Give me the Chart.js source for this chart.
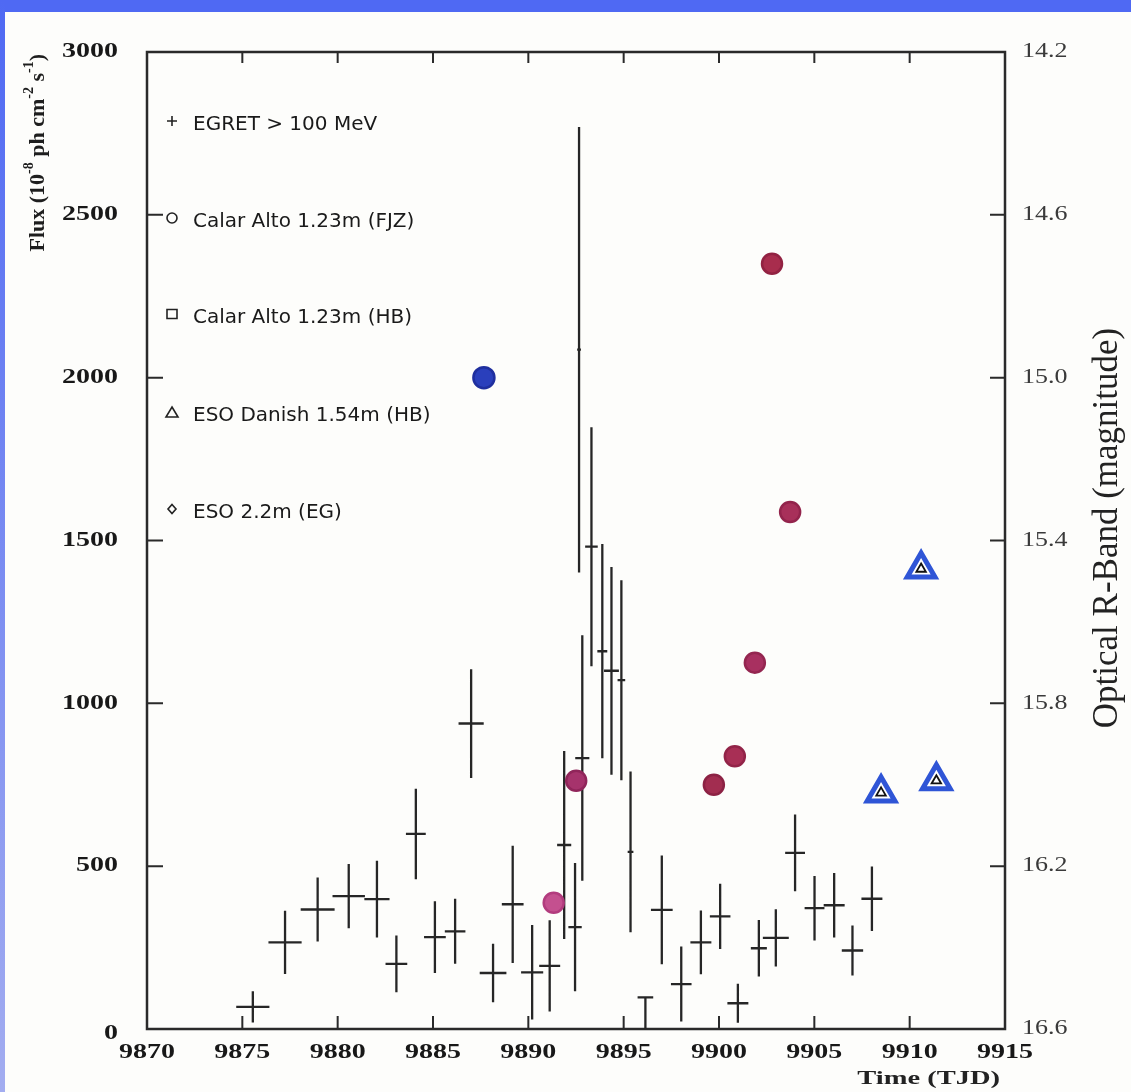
<!DOCTYPE html>
<html>
<head>
<meta charset="utf-8">
<title>EGRET / optical light curve</title>
<script src="https://cdn.jsdelivr.net/npm/chart.js@4.4.1/dist/chart.umd.min.js"></script>
<style>
  html, body { margin: 0; padding: 0; background: #fdfdfb; }
  #wrap { position: relative; width: 1131px; height: 1092px; overflow: hidden; }
  #lc { position: absolute; left: 0; top: 0; }
  #topbar { position: absolute; left: 0; top: 0; width: 1131px; height: 12px; background: #4f69f3; }
  #leftbar { position: absolute; left: 0; top: 0; width: 5px; height: 1092px; background: linear-gradient(#4f69f3, #a3adf0); }
</style>
</head>
<body>
<div id="wrap">
  <canvas id="lc" width="1131" height="1092"></canvas>
  <div id="topbar"></div>
  <div id="leftbar"></div>
</div>
<script>
// axis ticks
const timeTicks = [9870, 9875, 9880, 9885, 9890, 9895, 9900, 9905, 9910, 9915];
const fluxTicks = [0, 500, 1000, 1500, 2000, 2500, 3000];
const magTicks = [14.2, 14.6, 15.0, 15.4, 15.8, 16.2, 16.6];

// EGRET > 100 MeV flux (1e-8 ph cm-2 s-1), bin half width in days, errors
const egretTime = [9875.55, 9877.24, 9878.95, 9880.58, 9882.06, 9883.08, 9884.10, 9885.10, 9886.16, 9887.00,
                   9888.15, 9889.18, 9890.20, 9891.12, 9891.88, 9892.45, 9892.66, 9892.83, 9893.31, 9893.88,
                   9894.36, 9894.88, 9895.36, 9896.14, 9897.00, 9898.02, 9899.05, 9900.06, 9900.99, 9902.09,
                   9902.98, 9903.99, 9905.01, 9906.04, 9907.00, 9908.02];
const egretFlux = [68, 266, 367, 408, 399, 200, 599, 282, 300, 938,
                   172, 383, 174, 194, 565, 313, 2086, 832, 1481, 1160,
                   1100, 1071, 544, 97, 366, 138, 266, 346, 79, 248,
                   280, 541, 371, 380, 241, 400];
const egretHalfBin = [0.87, 0.87, 0.89, 0.85, 0.66, 0.57, 0.52, 0.57, 0.54, 0.66,
                      0.70, 0.57, 0.58, 0.55, 0.37, 0.35, 0.10, 0.37, 0.33, 0.26,
                      0.39, 0.20, 0.15, 0.41, 0.57, 0.54, 0.55, 0.54, 0.55, 0.42,
                      0.68, 0.52, 0.52, 0.55, 0.56, 0.55];
const egretErrUp = [48, 97, 98, 99, 118, 87, 139, 110, 100, 167,
                    90, 180, 145, 140, 289, 197, 684, 377, 367, 329,
                    319, 307, 247, 0, 167, 115, 98, 100, 60, 87,
                    88, 118, 99, 99, 77, 99];
const egretErrDown = [48, 97, 98, 99, 118, 87, 139, 110, 100, 167,
                      90, 180, 145, 140, 289, 197, 684, 377, 367, 329,
                      319, 307, 247, 97, 167, 115, 98, 100, 60, 87,
                      88, 118, 99, 99, 77, 99];

// optical R-band magnitudes
const calarTime = [9891.33, 9892.51, 9899.73, 9900.83, 9901.88, 9902.78, 9903.73];
const calarMag = [16.29, 15.99, 16.00, 15.93, 15.70, 14.72, 15.33];
const blueTime = [9887.67];
const blueMag = [15.0];
const danishTime = [9908.5, 9910.6, 9911.4];
const danishMag = [16.02, 15.47, 15.99];

const legendLabels = ['EGRET > 100 MeV', 'Calar Alto 1.23m (FJZ)', 'Calar Alto 1.23m (HB)',
                      'ESO Danish 1.54m (HB)', 'ESO 2.2m (EG)'];

function pts(xs, ys) {
  return xs.map((x, i) => ({ x: x, y: ys[i] }));
}

function wideText(ctx, txt, x, y, font, align, sx, color) {
  ctx.save();
  ctx.font = font;
  ctx.fillStyle = color;
  ctx.textBaseline = 'middle';
  ctx.textAlign = 'left';
  const w = ctx.measureText(txt).width * sx;
  const left = align === 'right' ? x - w : (align === 'center' ? x - w / 2 : x);
  ctx.translate(left, y);
  ctx.scale(sx, 1);
  ctx.fillText(txt, 0, 0);
  ctx.restore();
}

const paper = {
  id: 'paper',
  beforeDatasetsDraw(chart) {
    const { ctx, chartArea: a, scales } = chart;
    const x = scales.x, y = scales.y, y2 = scales.y2;
    ctx.save();
    // frame
    ctx.strokeStyle = '#2a2a2a';
    ctx.lineWidth = 2.5;
    ctx.strokeRect(a.left, a.top, a.right - a.left, a.bottom - a.top);
    // inner ticks
    ctx.lineWidth = 2;
    ctx.beginPath();
    timeTicks.slice(1, -1).forEach(t => {
      const px = x.getPixelForValue(t);
      ctx.moveTo(px, a.bottom); ctx.lineTo(px, a.bottom - 13);
      ctx.moveTo(px, a.top); ctx.lineTo(px, a.top + 11);
    });
    fluxTicks.slice(1, -1).forEach(v => {
      const py = y.getPixelForValue(v);
      ctx.moveTo(a.left, py); ctx.lineTo(a.left + 16, py);
    });
    magTicks.slice(1, -1).forEach(m => {
      const py = y2.getPixelForValue(m);
      ctx.moveTo(a.right, py); ctx.lineTo(a.right - 15, py);
    });
    ctx.stroke();

    // EGRET error crosses
    ctx.beginPath();
    ctx.rect(a.left, a.top, a.right - a.left, a.bottom - a.top);
    ctx.clip();
    ctx.strokeStyle = '#262626';
    ctx.lineWidth = 2.3;
    ctx.beginPath();
    egretTime.forEach((t, i) => {
      const px = x.getPixelForValue(t);
      const py = y.getPixelForValue(egretFlux[i]);
      ctx.moveTo(x.getPixelForValue(t - egretHalfBin[i]), py);
      ctx.lineTo(x.getPixelForValue(t + egretHalfBin[i]), py);
      ctx.moveTo(px, y.getPixelForValue(egretFlux[i] + egretErrUp[i]));
      ctx.lineTo(px, y.getPixelForValue(egretFlux[i] - egretErrDown[i]));
    });
    ctx.stroke();
    ctx.restore();
  },
  afterDraw(chart) {
    const { ctx, chartArea: a, scales } = chart;
    const x = scales.x, y = scales.y, y2 = scales.y2;
    const boldNum = 'bold 20px "Liberation Serif"';

    // tick labels
    fluxTicks.forEach(v => {
      wideText(ctx, String(v), a.left - 29, y.getPixelForValue(v) + (v === 0 ? 5 : 0), boldNum, 'right', 1.4, '#181818');
    });
    timeTicks.forEach(t => {
      wideText(ctx, String(t), x.getPixelForValue(t), a.bottom + 24, boldNum, 'center', 1.4, '#181818');
    });
    magTicks.forEach(m => {
      wideText(ctx, m.toFixed(1), a.right + 17, y2.getPixelForValue(m), '20px "Liberation Serif"', 'left', 1.3, '#3a3a3a');
    });

    // x title
    wideText(ctx, 'Time (TJD)', a.right - 5, 1079, 'bold 19px "Liberation Serif"', 'right', 1.5, '#222');

    // left title with superscripts, reading bottom to top
    const parts = [['Flux (10', false], ['-8', true], [' ph cm', false], ['-2', true],
                   [' s', false], ['-1', true], [')', false]];
    const mainFont = 'bold 22px "Liberation Serif"';
    const supFont = 'bold 14px "Liberation Serif"';
    ctx.save();
    let total = 0;
    parts.forEach(p => { ctx.font = p[1] ? supFont : mainFont; total += ctx.measureText(p[0]).width; });
    ctx.translate(38, a.top + 2 + total);
    ctx.rotate(-Math.PI / 2);
    ctx.fillStyle = '#1e1e1e';
    ctx.textBaseline = 'middle';
    let cx = 0;
    parts.forEach(p => {
      ctx.font = p[1] ? supFont : mainFont;
      ctx.fillText(p[0], cx, p[1] ? -9 : 0);
      cx += ctx.measureText(p[0]).width;
    });
    ctx.restore();

    // right title
    ctx.save();
    ctx.translate(1108, 528);
    ctx.rotate(-Math.PI / 2);
    ctx.font = '35px "Liberation Serif"';
    ctx.fillStyle = '#222';
    ctx.textAlign = 'center';
    ctx.textBaseline = 'middle';
    ctx.fillText('Optical R-Band (magnitude)', 0, 0);
    ctx.restore();

    // key inside the frame
    const rows = [73, 170, 266, 364, 461];
    const sx = a.left + 25;
    ctx.save();
    ctx.strokeStyle = '#222';
    ctx.lineWidth = 1.6;
    legendLabels.forEach((lab, i) => {
      const ty = a.top + rows[i];
      const sy = ty - 4;
      ctx.beginPath();
      if (i === 0) {
        ctx.moveTo(sx - 5, sy); ctx.lineTo(sx + 5, sy);
        ctx.moveTo(sx, sy - 5); ctx.lineTo(sx, sy + 5);
      } else if (i === 1) {
        ctx.arc(sx, sy, 5, 0, Math.PI * 2);
      } else if (i === 2) {
        ctx.rect(sx - 5, sy - 4.5, 10, 9);
      } else if (i === 3) {
        ctx.moveTo(sx, sy - 5); ctx.lineTo(sx + 6, sy + 5); ctx.lineTo(sx - 6, sy + 5); ctx.closePath();
      } else {
        ctx.moveTo(sx, sy - 4.5); ctx.lineTo(sx + 4, sy); ctx.lineTo(sx, sy + 4.5); ctx.lineTo(sx - 4, sy); ctx.closePath();
      }
      ctx.stroke();
      ctx.font = '20px "DejaVu Sans"';
      ctx.fillStyle = '#1a1a1a';
      ctx.textBaseline = 'middle';
      ctx.fillText(lab, a.left + 46, ty);
    });
    ctx.restore();
  }
};

function fixedTicks(list) {
  return function (scale) { scale.ticks = list.map(v => ({ value: v })); };
}

new Chart(document.getElementById('lc'), {
  type: 'scatter',
  data: {
    datasets: [
      {
        label: 'EGRET > 100 MeV',
        data: pts(egretTime, egretFlux),
        yAxisID: 'y',
        pointRadius: 0,
        order: 5
      },
      {
        label: 'Calar Alto 1.23m (FJZ)',
        data: pts(calarTime, calarMag),
        yAxisID: 'y2',
        pointRadius: 10,
        borderWidth: 2.5,
        backgroundColor: ['#c4508f', '#a6336c', '#a22d50', '#a82f55', '#a83060', '#a82d4d', '#a8305a'],
        borderColor: ['#b23c7e', '#90255a', '#8c2244', '#922448', '#942650', '#922242', '#93244c'],
        order: 3
      },
      {
        label: 'Calar Alto 1.23m (FJZ) blue',
        data: pts(blueTime, blueMag),
        yAxisID: 'y2',
        pointRadius: 10.5,
        borderWidth: 2.5,
        backgroundColor: '#2a3fbc',
        borderColor: '#1f2f9e',
        order: 3
      },
      {
        label: 'ESO Danish 1.54m (HB)',
        data: pts(danishTime, danishMag),
        yAxisID: 'y2',
        pointStyle: 'triangle',
        pointRadius: 16,
        borderWidth: 5,
        backgroundColor: '#ffffff',
        borderColor: '#2f55d6',
        order: 2
      },
      {
        label: 'ESO Danish 1.54m (HB) mark',
        data: pts(danishTime, danishMag),
        yAxisID: 'y2',
        pointStyle: 'triangle',
        pointRadius: 5.5,
        borderWidth: 1.8,
        backgroundColor: '#ffffff',
        borderColor: '#111111',
        order: 1
      }
    ]
  },
  options: {
    responsive: false,
    animation: false,
    devicePixelRatio: 1,
    layout: { padding: { top: 52, left: 0, right: 0, bottom: 0 } },
    plugins: {
      legend: { display: false },
      tooltip: { enabled: false }
    },
    scales: {
      x: {
        type: 'linear',
        position: 'bottom',
        min: 9870,
        max: 9915,
        afterBuildTicks: fixedTicks(timeTicks),
        afterFit: s => { s.height = 63; },
        ticks: { display: false },
        grid: { display: false },
        border: { display: false }
      },
      y: {
        type: 'linear',
        position: 'left',
        min: 0,
        max: 3000,
        afterBuildTicks: fixedTicks(fluxTicks),
        afterFit: s => { s.width = 147; },
        ticks: { display: false },
        grid: { display: false },
        border: { display: false }
      },
      y2: {
        type: 'linear',
        position: 'right',
        min: 14.2,
        max: 16.6,
        reverse: true,
        afterBuildTicks: fixedTicks(magTicks),
        afterFit: s => { s.width = 126; },
        ticks: { display: false },
        grid: { display: false },
        border: { display: false }
      }
    }
  },
  plugins: [paper]
});
</script>
</body>
</html>
